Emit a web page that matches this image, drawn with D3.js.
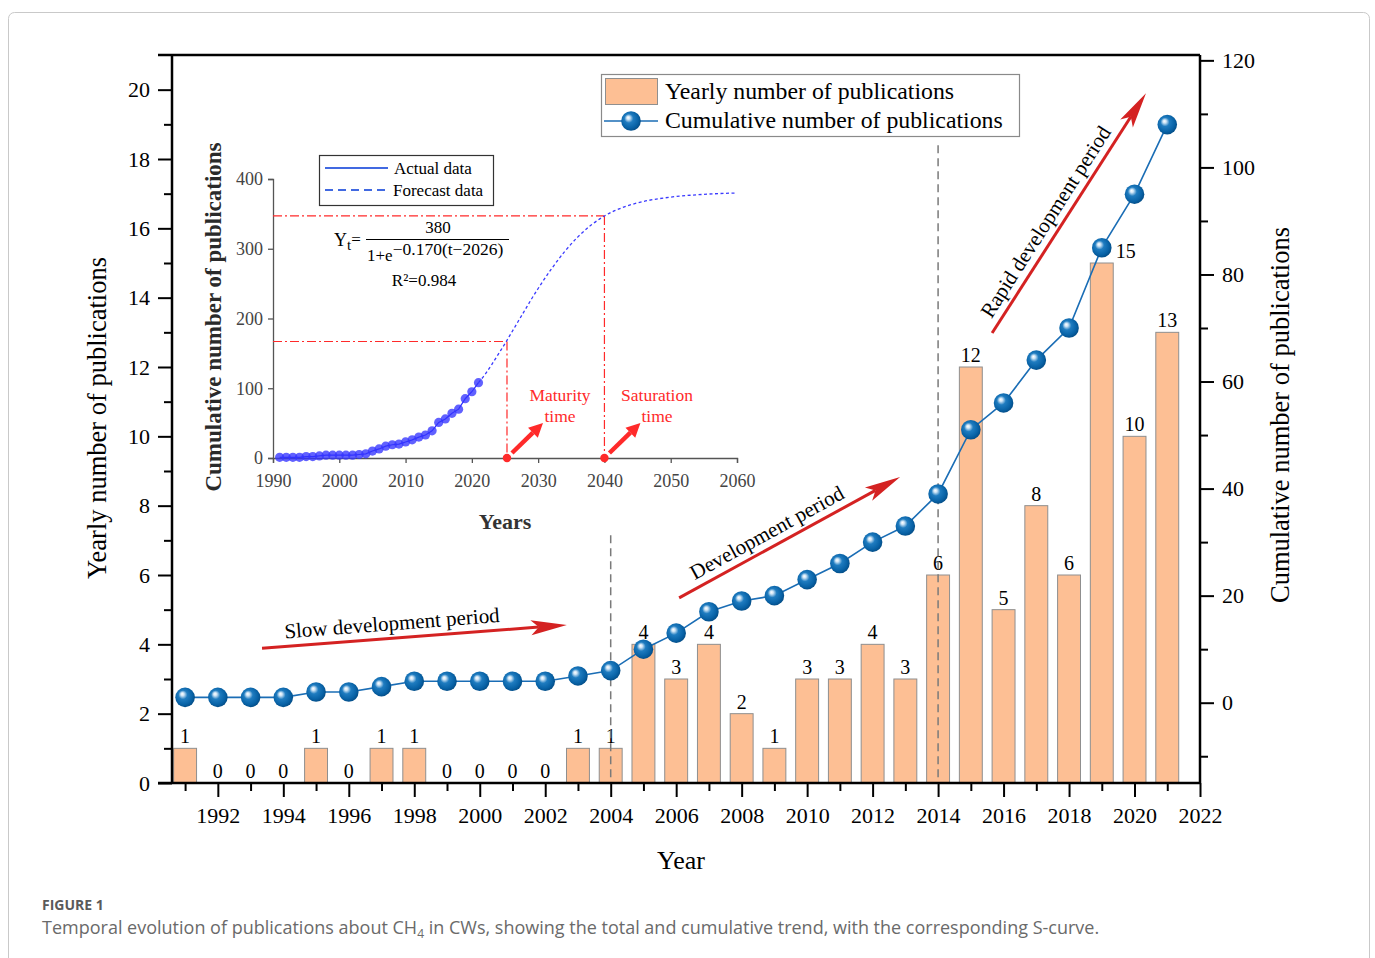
<!DOCTYPE html>
<html>
<head>
<meta charset="utf-8">
<script src="https://cdn.jsdelivr.net/npm/d3@7"></script>
<style>
  body { margin: 0; background: #fff; }
  svg { display: block; }
</style>
</head>
<body>
<svg id="chart" width="1375" height="958"></svg>
<script>
// ---- data ----------------------------------------------------------------
const years = [1991, 1992, 1993, 1994, 1995, 1996, 1997, 1998, 1999, 2000,
               2001, 2002, 2003, 2004, 2005, 2006, 2007, 2008, 2009, 2010,
               2011, 2012, 2013, 2014, 2015, 2016, 2017, 2018, 2019, 2020, 2021];
const yearly = [1, 0, 0, 0, 1, 0, 1, 1, 0, 0,
                0, 0, 1, 1, 4, 3, 4, 2, 1, 3,
                3, 4, 3, 6, 12, 5, 8, 6, 15, 10, 13];
const cumulative = [1, 1, 1, 1, 2, 2, 3, 4, 4, 4,
                    4, 4, 5, 6, 10, 13, 17, 19, 20, 23,
                    26, 30, 33, 39, 51, 56, 64, 70, 85, 95, 108];

const xTickYears = [1992, 1994, 1996, 1998, 2000, 2002, 2004, 2006,
                    2008, 2010, 2012, 2014, 2016, 2018, 2020, 2022];
const xMinorYears = [1991, 1993, 1995, 1997, 1999, 2001, 2003, 2005, 2007,
                     2009, 2011, 2013, 2015, 2017, 2019, 2021];
const leftTicks = [0, 2, 4, 6, 8, 10, 12, 14, 16, 18, 20];
const leftMinor = [1, 3, 5, 7, 9, 11, 13, 15, 17, 19];
const rightTicks = [0, 20, 40, 60, 80, 100, 120];
const rightMinor = [-10, 10, 30, 50, 70, 90, 110];

// S-curve inset
const insetXTicks = [1990, 2000, 2010, 2020, 2030, 2040, 2050, 2060];
const insetYTicks = [0, 100, 200, 300, 400];
const forecastYears = [2021, 2022, 2023, 2024, 2025, 2026, 2027, 2028, 2029, 2030,
                       2032, 2034, 2036, 2038, 2040, 2043, 2046, 2050, 2055, 2060];
const forecastValues = [108, 120, 134, 149, 164, 180, 196, 212, 228, 243,
                        271, 296, 317, 334, 347, 360, 368, 374, 378, 380];
const maturityPoint = { year: 2025.3, value: 167 };
const saturationPoint = { year: 2040, value: 347 };

// period annotations (year, yearly-axis value)
const periods = [
  { label: "Slow development period", from: [1993.35, 3.89], to: [2002.66, 4.56] },
  { label: "Development period", from: [2006.09, 5.34], to: [2012.84, 8.83] },
  { label: "Rapid development period", from: [2015.65, 12.98], to: [2020.35, 19.9] }
];
const guideYears = [2004, 2014];
const guideTops = [7.15, 18.4];

// ---- setup ---------------------------------------------------------------
const svg = d3.select("#chart");
const serif = "'Liberation Serif','Times New Roman',Times,serif";
const sans = "'Open Sans','Noto Sans',sans-serif";

svg.append("rect")
  .attr("x", 8.5).attr("y", 12.5).attr("width", 1361).attr("height", 980)
  .attr("rx", 6).attr("fill", "#fff").attr("stroke", "#c9c9c9");

const defs = svg.append("defs");
const grad = defs.append("radialGradient").attr("id", "ball")
  .attr("cx", "45%").attr("cy", "45%").attr("r", "60%")
  .attr("fx", "35%").attr("fy", "32%");
grad.append("stop").attr("offset", "0%").attr("stop-color", "#ffffff");
grad.append("stop").attr("offset", "14%").attr("stop-color", "#cfe5f6");
grad.append("stop").attr("offset", "38%").attr("stop-color", "#1f7cc0");
grad.append("stop").attr("offset", "75%").attr("stop-color", "#0862a6");
grad.append("stop").attr("offset", "100%").attr("stop-color", "#03487f");

const x = d3.scaleLinear().domain([1990.6, 2022]).range([172, 1200]);
const yL = d3.scaleLinear().domain([0, 21]).range([783, 55]);
const yR = d3.scaleLinear().domain([-15, 121]).range([783, 55]);
const barW = (x(1992) - x(1991)) * 0.7;

const barFill = "#fdbf94";
const lineBlue = "#1a6db5";
const arrowRed = "#d42222";

// ---- bars ----------------------------------------------------------------
const plot = svg.append("g");
plot.selectAll("rect.bar").data(years).join("rect")
  .attr("class", "bar")
  .attr("x", (d) => x(d) - barW / 2)
  .attr("y", (d, i) => yL(yearly[i]))
  .attr("width", barW)
  .attr("height", (d, i) => yL(0) - yL(yearly[i]))
  .attr("fill", barFill)
  .attr("stroke", "#8f8f8f")
  .attr("stroke-width", 1);

// value labels (the 2019 label sits right of the marker)
const labelShift = { 2019: 24 };
plot.selectAll("text.val").data(years).join("text")
  .attr("class", "val")
  .attr("x", (d) => x(d) + (labelShift[d] || 0))
  .attr("y", (d, i) => yL(yearly[i]) - 5)
  .attr("text-anchor", "middle")
  .attr("font-family", serif).attr("font-size", 20)
  .text((d, i) => yearly[i]);

// dashed guides
guideYears.forEach((yr, i) => {
  plot.append("line")
    .attr("x1", x(yr)).attr("x2", x(yr))
    .attr("y1", yL(guideTops[i])).attr("y2", yL(0))
    .attr("stroke", "#7a7a7a").attr("stroke-width", 1.5)
    .attr("stroke-dasharray", "8,5");
});

// ---- cumulative line -----------------------------------------------------
const cumLine = d3.line().x((d) => x(d)).y((d, i) => yR(cumulative[i]));
plot.append("path").datum(years)
  .attr("d", cumLine)
  .attr("fill", "none").attr("stroke", lineBlue).attr("stroke-width", 1.6);
plot.selectAll("circle.cum").data(years).join("circle")
  .attr("class", "cum")
  .attr("cx", (d) => x(d))
  .attr("cy", (d, i) => yR(cumulative[i]))
  .attr("r", 9.8)
  .attr("fill", "url(#ball)");

// ---- axes ----------------------------------------------------------------
function styleAxis(g, size) {
  g.select(".domain").remove();
  g.selectAll(".tick line").attr("stroke", "#000").attr("stroke-width", 2);
  g.selectAll(".tick text").attr("font-family", serif).attr("font-size", size).attr("fill", "#000");
}
const axX = svg.append("g").attr("transform", `translate(0,${yL(0)})`)
  .call(d3.axisBottom(x).tickValues(xTickYears).tickSize(14).tickPadding(10).tickFormat(d3.format("d")));
styleAxis(axX, 22);
const axXm = svg.append("g").attr("transform", `translate(0,${yL(0)})`)
  .call(d3.axisBottom(x).tickValues(xMinorYears).tickSize(8).tickFormat(""));
styleAxis(axXm, 22);

const axL = svg.append("g").attr("transform", `translate(${x.range()[0]},0)`)
  .call(d3.axisLeft(yL).tickValues(leftTicks).tickSize(14).tickPadding(8));
styleAxis(axL, 22);
const axLm = svg.append("g").attr("transform", `translate(${x.range()[0]},0)`)
  .call(d3.axisLeft(yL).tickValues(leftMinor).tickSize(8).tickFormat(""));
styleAxis(axLm, 22);

const axR = svg.append("g").attr("transform", `translate(${x.range()[1]},0)`)
  .call(d3.axisRight(yR).tickValues(rightTicks).tickSize(14).tickPadding(8));
styleAxis(axR, 22);
const axRm = svg.append("g").attr("transform", `translate(${x.range()[1]},0)`)
  .call(d3.axisRight(yR).tickValues(rightMinor).tickSize(8).tickFormat(""));
styleAxis(axRm, 22);

// frame lines
const frame = svg.append("g").attr("stroke", "#000").attr("stroke-width", 2.5).attr("fill", "none");
frame.append("line").attr("x1", x.range()[0] - 14).attr("x2", x.range()[1]).attr("y1", yL(0)).attr("y2", yL(0));
frame.append("line").attr("x1", x.range()[0] - 14).attr("x2", x.range()[1]).attr("y1", yL.range()[1]).attr("y2", yL.range()[1]);
frame.append("line").attr("x1", x.range()[0]).attr("x2", x.range()[0]).attr("y1", yL.range()[1]).attr("y2", yL(0));
frame.append("line").attr("x1", x.range()[1]).attr("x2", x.range()[1]).attr("y1", yL.range()[1]).attr("y2", yL(0));

// axis titles
svg.append("text").attr("x", 681).attr("y", 869).attr("text-anchor", "middle")
  .attr("font-family", serif).attr("font-size", 26).text("Year");
svg.append("text").attr("transform", "translate(106,418) rotate(-90)").attr("text-anchor", "middle")
  .attr("font-family", serif).attr("font-size", 26.5).text("Yearly number of publications");
svg.append("text").attr("transform", "translate(1289,415) rotate(-90)").attr("text-anchor", "middle")
  .attr("font-family", serif).attr("font-size", 26.5).text("Cumulative number of publications");

// ---- arrows --------------------------------------------------------------
function arrow(g, p1, p2, o) {
  const dx = p2[0] - p1[0], dy = p2[1] - p1[1], L = Math.hypot(dx, dy);
  const ux = dx / L, uy = dy / L, nx = -uy, ny = ux;
  const bx = p2[0] - ux * o.head, by = p2[1] - uy * o.head;
  const hw = o.hw / 2, notch = o.head * o.notch;
  g.append("line")
    .attr("x1", p1[0]).attr("y1", p1[1])
    .attr("x2", bx + ux * notch).attr("y2", by + uy * notch)
    .attr("stroke", o.color).attr("stroke-width", o.width);
  g.append("path")
    .attr("d", `M${p2[0]},${p2[1]} L${bx + nx * hw},${by + ny * hw} L${bx + ux * notch},${by + uy * notch} L${bx - nx * hw},${by - ny * hw} Z`)
    .attr("fill", o.color);
}

periods.forEach((p) => {
  const a = [x(p.from[0]), yL(p.from[1])];
  const b = [x(p.to[0]), yL(p.to[1])];
  arrow(svg, a, b, { color: arrowRed, width: 3, head: 36, hw: 15, notch: 0.22 });
  const ang = Math.atan2(b[1] - a[1], b[0] - a[0]);
  const deg = ang * 180 / Math.PI;
  // text placed a little before the arrow's midpoint, just above the shaft
  const t = 0.43;
  const mx = a[0] + (b[0] - a[0]) * t, my = a[1] + (b[1] - a[1]) * t;
  const off = 8;
  const tx = mx + Math.sin(ang) * off, ty = my - Math.cos(ang) * off;
  svg.append("text")
    .attr("transform", `translate(${tx},${ty}) rotate(${deg})`)
    .attr("text-anchor", "middle")
    .attr("font-family", serif).attr("font-size", 21)
    .text(p.label);
});

// ---- legend --------------------------------------------------------------
const lg = svg.append("g");
lg.append("rect").attr("x", 601.5).attr("y", 74.5).attr("width", 418).attr("height", 62)
  .attr("fill", "#fff").attr("stroke", "#8a8a8a").attr("stroke-width", 1.2);
lg.append("rect").attr("x", 605.5).attr("y", 78.5).attr("width", 52).attr("height", 26)
  .attr("fill", barFill).attr("stroke", "#8f8f8f");
lg.append("text").attr("x", 665).attr("y", 99).attr("font-family", serif).attr("font-size", 23.8)
  .text("Yearly number of publications");
lg.append("line").attr("x1", 604).attr("x2", 658).attr("y1", 121).attr("y2", 121)
  .attr("stroke", lineBlue).attr("stroke-width", 1.6);
lg.append("circle").attr("cx", 631).attr("cy", 121).attr("r", 9.8).attr("fill", "url(#ball)");
lg.append("text").attr("x", 665).attr("y", 128).attr("font-family", serif).attr("font-size", 23.8)
  .text("Cumulative number of publications");

// ---- inset: S-curve ------------------------------------------------------
const ix = d3.scaleLinear().domain([1990, 2060]).range([273, 737]);
const iy = d3.scaleLinear().domain([0, 400]).range([458, 179]);
const ins = svg.append("g");
const insetGrey = "#555";
const insetRed = "#ff2a2a";

const iax = ins.append("g").attr("transform", `translate(0,${iy(0)})`)
  .call(d3.axisBottom(ix).tickValues(insetXTicks).tickSize(5).tickPadding(11).tickFormat(d3.format("d")));
const iay = ins.append("g").attr("transform", `translate(${ix(1990)},0)`)
  .call(d3.axisLeft(iy).tickValues(insetYTicks).tickSize(5).tickPadding(5));
[iax, iay].forEach((g) => {
  g.select(".domain").attr("stroke", insetGrey).attr("stroke-width", 1.3);
  g.selectAll(".tick line").attr("stroke", insetGrey).attr("stroke-width", 1.3);
  g.selectAll(".tick text").attr("font-family", serif).attr("font-size", 18).attr("fill", "#444");
});

ins.append("text").attr("transform", "translate(221,317) rotate(-90)").attr("text-anchor", "middle")
  .attr("font-family", serif).attr("font-size", 23).attr("font-weight", "bold").attr("fill", "#2a2a2a")
  .text("Cumulative number of publications");
ins.append("text").attr("x", 505).attr("y", 529).attr("text-anchor", "middle")
  .attr("font-family", serif).attr("font-size", 22).attr("font-weight", "bold").attr("fill", "#333")
  .text("Years");

// reference lines for maturity and saturation
const refs = ins.append("g").attr("stroke", insetRed).attr("stroke-width", 1.2)
  .attr("stroke-dasharray", "9,3,2,3").attr("fill", "none");
[maturityPoint, saturationPoint].forEach((p) => {
  refs.append("line").attr("x1", ix(1990)).attr("x2", ix(p.year)).attr("y1", iy(p.value)).attr("y2", iy(p.value));
  refs.append("line").attr("x1", ix(p.year)).attr("x2", ix(p.year)).attr("y1", iy(p.value)).attr("y2", iy(0));
});

// forecast (dotted) and actual data
const fLine = d3.line().curve(d3.curveMonotoneX).x((d) => ix(d)).y((d, i) => iy(forecastValues[i]));
ins.append("path").datum(forecastYears).attr("d", fLine)
  .attr("fill", "none").attr("stroke", "#3a3aff").attr("stroke-width", 1.3).attr("stroke-dasharray", "3,2.5");
const aLine = d3.line().x((d) => ix(d)).y((d, i) => iy(cumulative[i]));
ins.append("path").datum(years).attr("d", aLine)
  .attr("fill", "none").attr("stroke", "#2a2aff").attr("stroke-width", 1.2);
ins.selectAll("circle.act").data(years).join("circle")
  .attr("class", "act")
  .attr("cx", (d) => ix(d)).attr("cy", (d, i) => iy(cumulative[i]))
  .attr("r", 4.6).attr("fill", "#3434ff").attr("fill-opacity", 0.78);

// markers on the time axis
[maturityPoint, saturationPoint].forEach((p) => {
  ins.append("circle").attr("cx", ix(p.year)).attr("cy", iy(0)).attr("r", 4.2).attr("fill", insetRed);
  arrow(ins, [ix(p.year) + 5, iy(0) - 5], [ix(p.year) + 36, iy(0) - 35],
        { color: insetRed, width: 4.5, head: 14, hw: 14, notch: 0 });
});
const redLabel = (cx, words) => {
  words.forEach((w, k) => {
    ins.append("text").attr("x", cx).attr("y", 401 + k * 21).attr("text-anchor", "middle")
      .attr("font-family", serif).attr("font-size", 17.5).attr("fill", insetRed).text(w);
  });
};
redLabel(560, ["Maturity", "time"]);
redLabel(657, ["Saturation", "time"]);

// inset legend
ins.append("rect").attr("x", 319.5).attr("y", 155.5).attr("width", 174).attr("height", 50)
  .attr("fill", "#fff").attr("stroke", "#333").attr("stroke-width", 1.2);
ins.append("line").attr("x1", 325).attr("x2", 388).attr("y1", 168).attr("y2", 168)
  .attr("stroke", "#4169e1").attr("stroke-width", 2);
ins.append("line").attr("x1", 325).attr("x2", 388).attr("y1", 190).attr("y2", 190)
  .attr("stroke", "#4169e1").attr("stroke-width", 2).attr("stroke-dasharray", "8,5");
ins.append("text").attr("x", 394).attr("y", 174).attr("font-family", serif).attr("font-size", 17).text("Actual data");
ins.append("text").attr("x", 393).attr("y", 196).attr("font-family", serif).attr("font-size", 17).text("Forecast data");

// fitted equation
const eq = ins.append("g").attr("font-family", serif).attr("font-size", 17);
const yt = eq.append("text").attr("x", 334).attr("y", 246);
yt.append("tspan").attr("font-size", 18).text("Y");
yt.append("tspan").attr("dy", 4).attr("font-size", 15).text("t");
yt.append("tspan").attr("dy", -5).text("=");
eq.append("text").attr("x", 438).attr("y", 233).attr("text-anchor", "middle").text("380");
eq.append("line").attr("x1", 366).attr("x2", 509).attr("y1", 239.5).attr("y2", 239.5)
  .attr("stroke", "#000").attr("stroke-width", 1);
const den = eq.append("text").attr("x", 367).attr("y", 261);
den.append("tspan").text("1+e");
den.append("tspan").attr("dy", -6).attr("font-size", 17.5).text("−0.170(t−2026)");
eq.append("text").attr("x", 424).attr("y", 286).attr("text-anchor", "middle").text("R²=0.984");

// ---- caption ---------------------------------------------------------------
svg.append("text").attr("x", 42).attr("y", 910)
  .attr("font-family", sans).attr("font-size", 14).attr("font-weight", "bold").attr("fill", "#5a5a5a")
  .text("FIGURE 1");
const cap = svg.append("text").attr("x", 42).attr("y", 934)
  .attr("font-family", sans).attr("font-size", 18).attr("fill", "#6a6a6a");
cap.append("tspan").text("Temporal evolution of publications about CH");
cap.append("tspan").attr("dy", 4).attr("font-size", 12).text("4");
cap.append("tspan").attr("dy", -4).text(" in CWs, showing the total and cumulative trend, with the corresponding S-curve.");
</script>
</body>
</html>
